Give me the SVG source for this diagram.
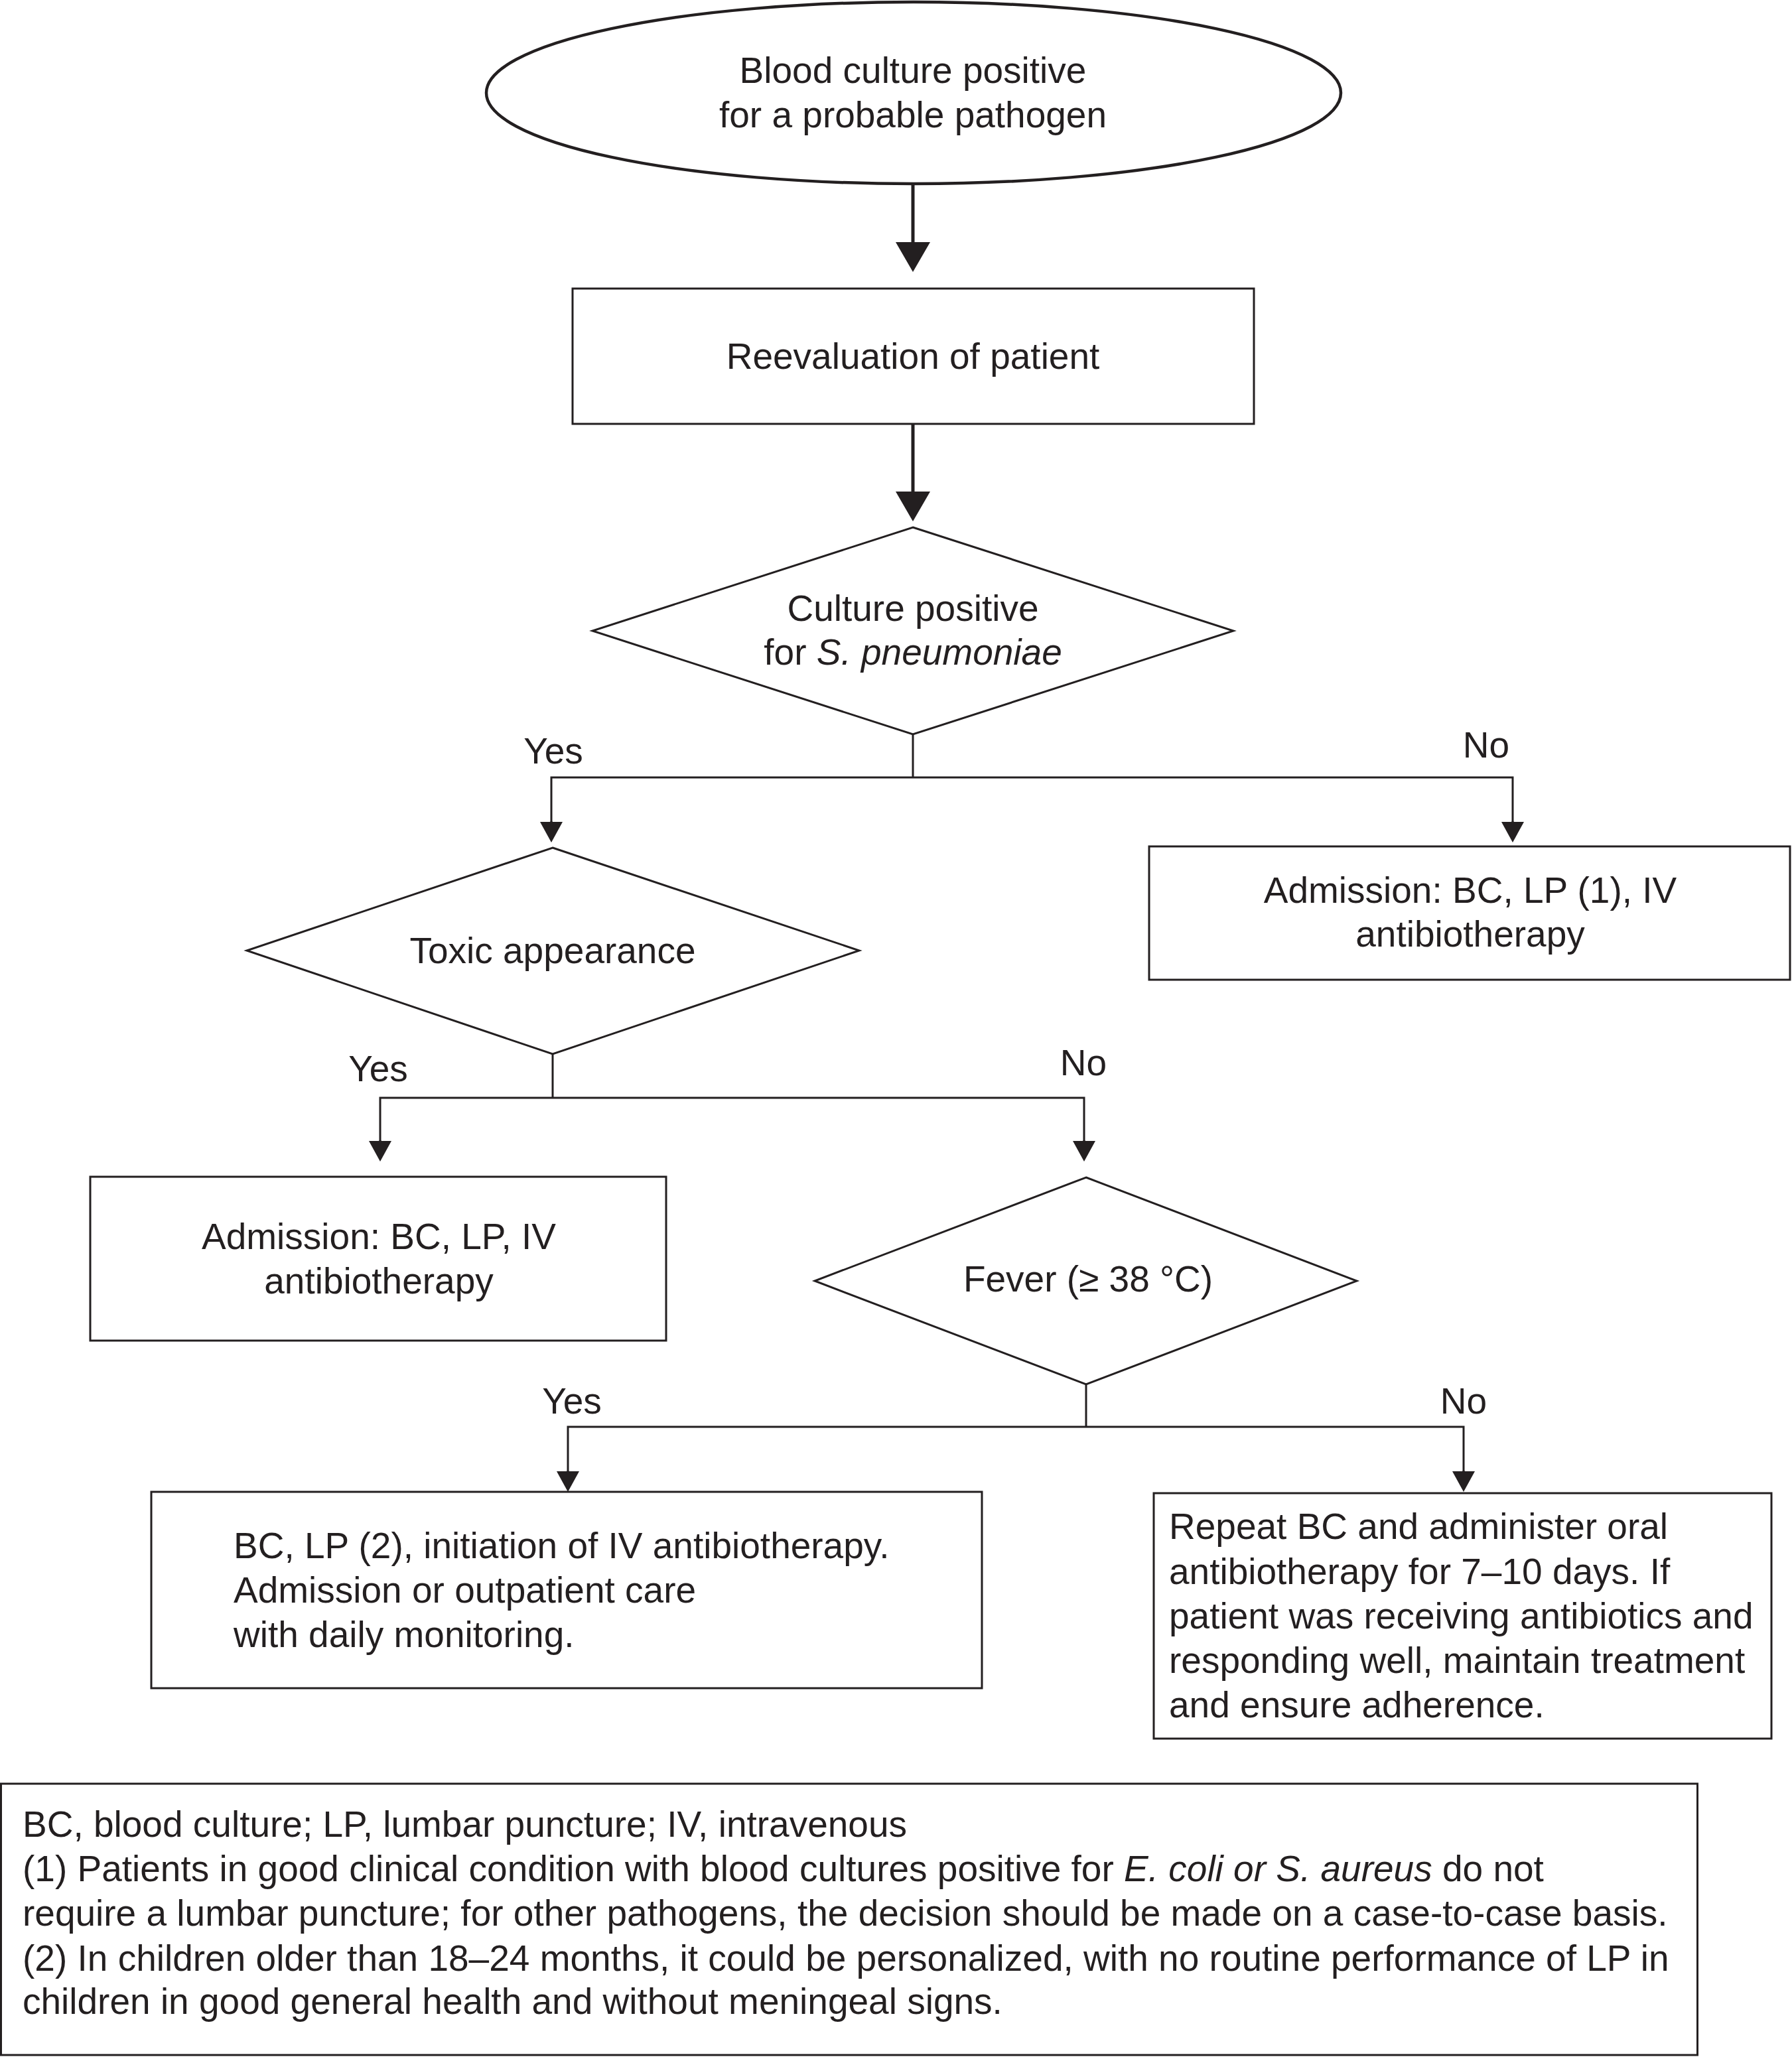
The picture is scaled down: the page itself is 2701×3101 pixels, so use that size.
<svg xmlns="http://www.w3.org/2000/svg" width="2701" height="3101" viewBox="0 0 2701 3101">
<style>
  text { font-family: "Liberation Sans", Arial, sans-serif; font-size: 55px; fill: #231f20; }
  .c { text-anchor: middle; }
  .i { font-style: italic; }
  .shape { fill: #fff; stroke: #231f20; stroke-width: 3; }
  .main { fill: none; stroke: #231f20; stroke-width: 5; }
  .br { fill: none; stroke: #231f20; stroke-width: 3; }
</style>
<defs>
  <marker id="big" viewBox="0 0 45 52" refX="0" refY="26" markerWidth="45" markerHeight="52" markerUnits="userSpaceOnUse" orient="auto">
    <path d="M0 0 L45 26 L0 52 Z" fill="#231f20"/>
  </marker>
  <marker id="small" viewBox="0 0 31 34" refX="0" refY="17" markerWidth="31" markerHeight="34" markerUnits="userSpaceOnUse" orient="auto">
    <path d="M0 0 L31 17 L0 34 Z" fill="#231f20"/>
  </marker>
</defs>
<rect width="2701" height="3101" fill="#fff"/>

<g id="start">
  <ellipse cx="1377" cy="140" rx="644" ry="137" fill="#fff" stroke="#231f20" stroke-width="4.5"/>
  <text class="c" x="1376" y="125">Blood culture positive</text>
  <text class="c" x="1376" y="192">for a probable pathogen</text>
</g>

<g id="reevaluation">
  <rect class="shape" x="863" y="435" width="1027" height="204"/>
  <text class="c" x="1376" y="556">Reevaluation of patient</text>
</g>

<g id="culture-decision">
  <polygon class="shape" points="1376,795 1859,951 1376,1107 893,951"/>
  <text class="c" x="1376" y="936">Culture positive</text>
  <text class="c" x="1376" y="1002">for <tspan class="i">S. pneumoniae</tspan></text>
</g>

<g id="admission-1">
  <rect class="shape" x="1732" y="1276" width="966" height="201"/>
  <text class="c" x="2216" y="1361">Admission: BC, LP (1), IV</text>
  <text class="c" x="2216" y="1427">antibiotherapy</text>
</g>

<g id="toxic-decision">
  <polygon class="shape" points="833,1278 1295,1433 833,1589 372,1433"/>
  <text class="c" x="833" y="1452">Toxic appearance</text>
</g>

<g id="admission-2">
  <rect class="shape" x="136" y="1774" width="868" height="247"/>
  <text class="c" x="571" y="1883">Admission: BC, LP, IV</text>
  <text class="c" x="571" y="1950">antibiotherapy</text>
</g>

<g id="fever-decision">
  <polygon class="shape" points="1637,1775 2045,1931 1637,2087 1228,1931"/>
  <text class="c" x="1640" y="1947">Fever (≥ 38 °C)</text>
</g>

<g id="iv-care">
  <rect class="shape" x="228" y="2249" width="1252" height="296"/>
  <text x="352" y="2349">BC, LP (2), initiation of IV antibiotherapy.</text>
  <text x="352" y="2416">Admission or outpatient care</text>
  <text x="352" y="2483">with daily monitoring.</text>
</g>

<g id="oral-care">
  <rect class="shape" x="1739" y="2251" width="931" height="370"/>
  <text x="1762" y="2320">Repeat BC and administer oral</text>
  <text x="1762" y="2388">antibiotherapy for 7–10 days. If</text>
  <text x="1762" y="2455">patient was receiving antibiotics and</text>
  <text x="1762" y="2522">responding well, maintain treatment</text>
  <text x="1762" y="2589">and ensure adherence.</text>
</g>

<g id="connectors">
  <path class="main" d="M1376 277 V365" marker-end="url(#big)"/>
  <path class="main" d="M1376 639 V741" marker-end="url(#big)"/>

  <path class="br" d="M1376 1107 V1172"/>
  <path class="br" d="M831 1239 V1172 H2280 V1239"/>
  <path class="br" d="M831 1238 V1239" marker-end="url(#small)"/>
  <path class="br" d="M2280 1238 V1239" marker-end="url(#small)"/>

  <path class="br" d="M833 1589 V1655"/>
  <path class="br" d="M573 1720 V1655 H1634 V1720"/>
  <path class="br" d="M573 1719 V1720" marker-end="url(#small)"/>
  <path class="br" d="M1634 1719 V1720" marker-end="url(#small)"/>

  <path class="br" d="M1637 2087 V2151"/>
  <path class="br" d="M856 2218 V2151 H2206 V2218"/>
  <path class="br" d="M856 2217 V2218" marker-end="url(#small)"/>
  <path class="br" d="M2206 2217 V2218" marker-end="url(#small)"/>
</g>

<g id="labels">
  <text class="c" x="834" y="1151">Yes</text>
  <text class="c" x="2240" y="1142">No</text>
  <text class="c" x="570" y="1630">Yes</text>
  <text class="c" x="1633" y="1621">No</text>
  <text class="c" x="862" y="2131">Yes</text>
  <text class="c" x="2206" y="2131">No</text>
</g>

<g id="footnote">
  <rect x="1.5" y="2689" width="2557" height="409" fill="#fff" stroke="#231f20" stroke-width="3"/>
  <text x="34" y="2769">BC, blood culture; LP, lumbar puncture; IV, intravenous</text>
  <text x="34" y="2836">(1) Patients in good clinical condition with blood cultures positive for <tspan class="i">E. coli or S. aureus</tspan> do not</text>
  <text x="34" y="2903">require a lumbar puncture; for other pathogens, the decision should be made on a case-to-case basis.</text>
  <text x="34" y="2971">(2) In children older than 18–24 months, it could be personalized, with no routine performance of LP in</text>
  <text x="34" y="3036">children in good general health and without meningeal signs.</text>
</g>
</svg>
